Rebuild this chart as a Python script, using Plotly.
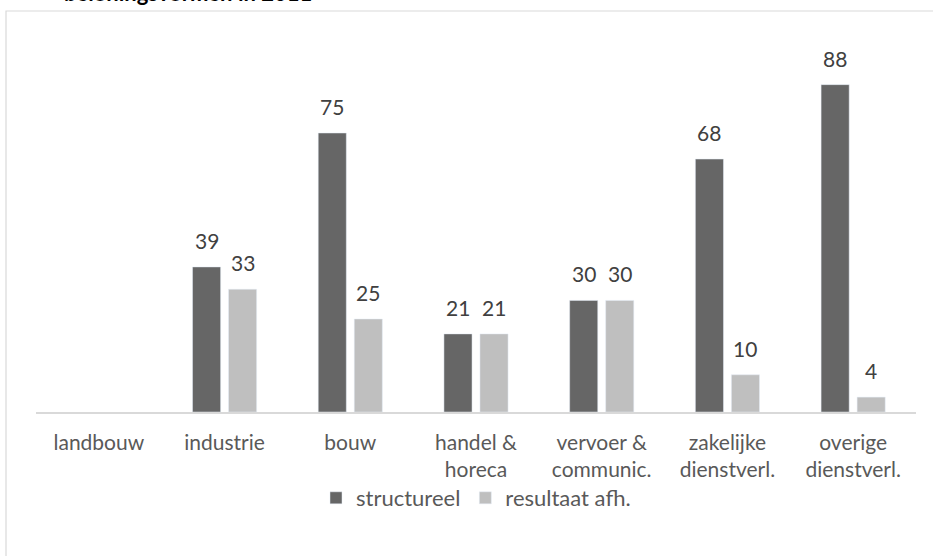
import plotly.graph_objects as go

categories = ["landbouw", "industrie", "bouw", "handel &<br>horeca", "vervoer &<br>communic.",
              "zakelijke<br>dienstverl.", "overige<br>dienstverl."]
structureel = [None, 39, 75, 21, 30, 68, 88]
resultaat_afh = [None, 33, 25, 21, 30, 10, 4]
title_text = "beloningsvormen in 2011"

FONT = "Lato, Open Sans, sans-serif"
W, H = 933, 556
L, R, T, B = 36, 17, 40, 144

fig = go.Figure()
fig.add_trace(go.Bar(x=categories, y=structureel, name="structureel",
                     marker=dict(color="#666666")))
fig.add_trace(go.Bar(x=categories, y=resultaat_afh, name="resultaat afh.",
                     marker=dict(color="#bfbfbf")))

pw = W - L - R
ph = H - T - B
def px_x(p):
    return (p - L) / pw
def px_y(p):
    return (H - B - p) / ph

annotations = []
for series, shift in ((structureel, -18), (resultaat_afh, 18)):
    for cat, v in zip(categories, series):
        if v is None:
            continue
        annotations.append(dict(x=cat, y=v, xref="x", yref="y", text=str(v), showarrow=False,
                                xanchor="center", yanchor="bottom", xshift=shift, yshift=12,
                                font=dict(family=FONT, size=21, color="#404040")))
annotations.append(dict(text="<b>" + title_text + "</b>", xref="paper", yref="paper",
                        x=px_x(62), y=px_y(8), xanchor="left", yanchor="bottom", showarrow=False,
                        font=dict(family=FONT, size=22, color="#000000")))

fig.update_layout(
    width=W, height=H,
    margin=dict(l=L, r=R, t=T, b=B),
    paper_bgcolor="white", plot_bgcolor="white",
    barmode="group", bargap=0.427, bargroupgap=0.22,
    font=dict(family=FONT, size=21, color="#595959"),
    showlegend=True,
    legend=dict(orientation="h", x=px_x(476), xanchor="center", y=px_y(498), yanchor="middle",
                font=dict(family=FONT, size=22, color="#595959"), itemwidth=30,
                bgcolor="rgba(0,0,0,0)"),
    xaxis=dict(showline=True, linecolor="#d9d9d9", linewidth=1.5, ticks="",
               ticklabelstandoff=11,
               tickfont=dict(family=FONT, size=21, color="#595959"), showgrid=False),
    yaxis=dict(range=[0, 100], visible=False, showgrid=False, zeroline=False),
    shapes=[dict(type="rect", xref="paper", yref="paper",
                 x0=px_x(6), x1=px_x(945), y0=px_y(570), y1=px_y(11),
                 line=dict(color="#d9d9d9", width=1.2), fillcolor="rgba(0,0,0,0)", layer="below")],
    annotations=annotations,
)

fig.write_html("out.html", config={"displayModeBar": False},
               post_script="document.body.style.margin='0';document.body.style.overflow='hidden';")
